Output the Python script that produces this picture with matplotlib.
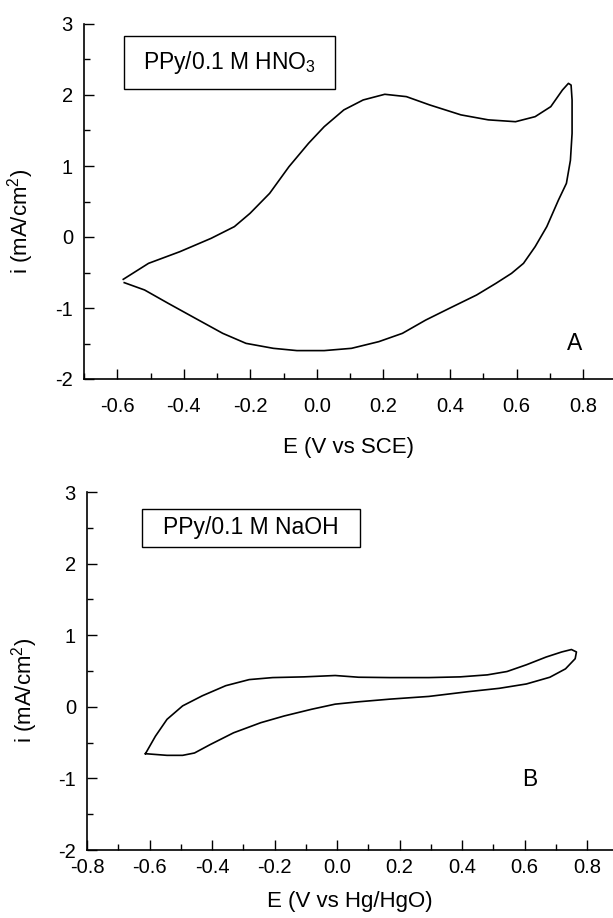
#!/usr/bin/env python3
import matplotlib
matplotlib.use("Agg")
import matplotlib.pyplot as plt
from matplotlib.patches import Rectangle
from matplotlib.ticker import MultipleLocator

plt.rcParams["font.family"] = ["Liberation Sans", "DejaVu Sans"]
plt.rcParams["mathtext.fontset"] = "custom"
plt.rcParams["mathtext.rm"] = "Liberation Sans"
plt.rcParams["mathtext.it"] = "Liberation Sans"
plt.rcParams["axes.unicode_minus"] = False

# panel A: PPy in 0.1 M HNO3, closed CV loop (E in V vs SCE, i in mA/cm2)
e_hno3 = [-0.582, -0.506, -0.412, -0.318, -0.248, -0.201, -0.142, -0.084, -0.025, 0.022,
          0.081, 0.139, 0.204, 0.269, 0.339, 0.433, 0.515, 0.597, 0.656, 0.703,
          0.738, 0.756, 0.764, 0.767, 0.767, 0.762, 0.750, 0.726, 0.691, 0.656,
          0.621, 0.585, 0.538, 0.480, 0.398, 0.327, 0.257, 0.186, 0.104, 0.022,
          -0.060, -0.131, -0.213, -0.283, -0.365, -0.447, -0.518, -0.579]
i_hno3 = [-0.596, -0.371, -0.207, -0.019, 0.146, 0.333, 0.615, 0.990, 1.320, 1.554,
          1.790, 1.930, 2.010, 1.977, 1.860, 1.720, 1.650, 1.624, 1.695, 1.836,
          2.070, 2.164, 2.140, 1.930, 1.460, 1.080, 0.756, 0.520, 0.146, -0.136,
          -0.371, -0.512, -0.653, -0.817, -1.005, -1.170, -1.357, -1.474, -1.568, -1.600,
          -1.600, -1.568, -1.498, -1.357, -1.146, -0.934, -0.746, -0.643]

# panel B: PPy in 0.1 M NaOH (E in V vs Hg/HgO)
e_naoh = [-0.613, -0.581, -0.544, -0.494, -0.431, -0.356, -0.281, -0.206, -0.106, -0.006,
          0.069, 0.169, 0.294, 0.394, 0.481, 0.544, 0.606, 0.669, 0.719, 0.750,
          0.766, 0.762, 0.731, 0.681, 0.606, 0.519, 0.419, 0.294, 0.169, 0.069,
          -0.006, -0.081, -0.169, -0.244, -0.331, -0.406, -0.456, -0.494, -0.544, -0.613]
i_naoh = [-0.655, -0.410, -0.175, 0.013, 0.154, 0.295, 0.380, 0.408, 0.418, 0.437,
          0.413, 0.408, 0.408, 0.418, 0.446, 0.493, 0.587, 0.695, 0.766, 0.800,
          0.766, 0.672, 0.530, 0.413, 0.319, 0.258, 0.211, 0.145, 0.107, 0.070,
          0.037, -0.034, -0.128, -0.222, -0.363, -0.528, -0.645, -0.678, -0.678, -0.655]

W, H = 613, 918


def style_axes(ax, xmin, xmax, xpad):
    ax.set_xlim(xmin, xmax)
    ax.set_ylim(-2, 3)
    for side in ("top", "right"):
        ax.spines[side].set_visible(False)
    for side in ("left", "bottom"):
        ax.spines[side].set_linewidth(1.2)
    ax.xaxis.set_major_locator(MultipleLocator(0.2))
    ax.xaxis.set_minor_locator(MultipleLocator(0.1))
    ax.yaxis.set_major_locator(MultipleLocator(1))
    ax.yaxis.set_minor_locator(MultipleLocator(0.5))
    ax.xaxis.set_major_formatter(plt.FuncFormatter(lambda v, p: f"{v:.1f}"))
    ax.tick_params(which="both", direction="in", labelsize=14.5, width=1.0)
    ax.tick_params(which="major", length=7.5)
    ax.tick_params(which="minor", length=4)
    ax.tick_params(axis="x", pad=xpad)
    ax.tick_params(axis="y", pad=8)
    ax.set_ylabel("i (mA/cm$^2$)", fontsize=16)
    ax.yaxis.set_label_coords(-0.09, 0.445)


def label_box(ax, x0, x1, y0, y1, text):
    ax.add_patch(Rectangle((x0, y0), x1 - x0, y1 - y0, fill=False, ec="black", lw=1.0))
    ax.text((x0 + x1) / 2, (y0 + y1) / 2, text, fontsize=16.5, ha="center", va="center")


fig = plt.figure(figsize=(W / 100, H / 100), dpi=100)

# panel A
ax1 = fig.add_axes([84 / W, 1 - 379 / H, 1 - 84 / W, 355 / H])
ax1.plot(e_hno3, i_hno3, color="black", lw=1.2)
style_axes(ax1, -0.7, 0.89, 13)
ax1.set_xlabel("E (V vs SCE)", fontsize=16, labelpad=15)
label_box(ax1, -0.579, 0.055, 2.08, 2.83, "PPy/0.1 M HNO$_3$")
ax1.text(0.776, -1.5, "A", fontsize=16.5, ha="center", va="center")

# panel B
ax2 = fig.add_axes([87 / W, 1 - 850 / H, 1 - 87 / W, 358 / H])
ax2.plot(e_naoh, i_naoh, color="black", lw=1.2)
style_axes(ax2, -0.8, 0.883, 6)
ax2.set_xlabel("E (V vs Hg/HgO)", fontsize=16, labelpad=10)
label_box(ax2, -0.625, 0.0725, 2.233, 2.765, "PPy/0.1 M NaOH")
ax2.text(0.616, -1.02, "B", fontsize=16.5, ha="center", va="center")

fig.savefig("out.png", dpi=100)
